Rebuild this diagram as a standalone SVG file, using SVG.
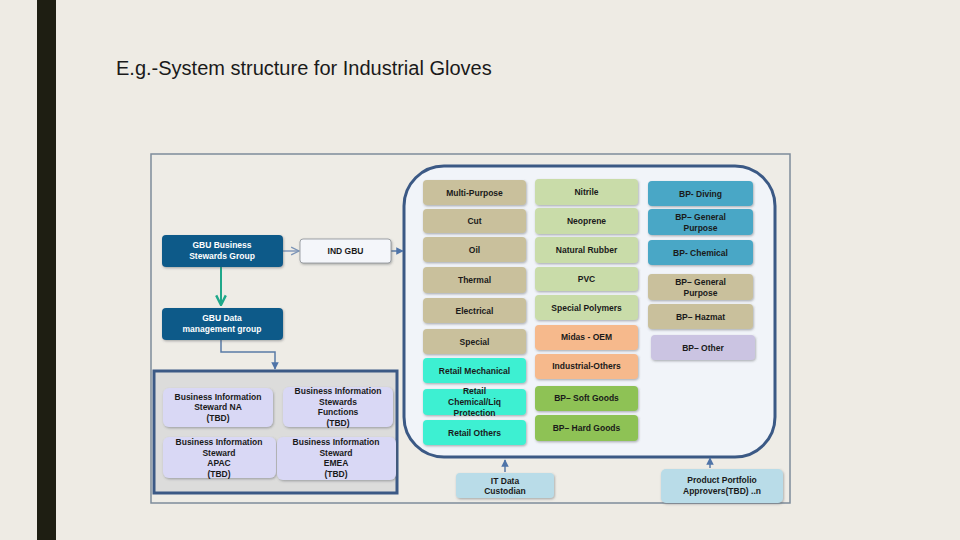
<svg xmlns="http://www.w3.org/2000/svg" width="960" height="540" viewBox="0 0 960 540">
<defs>
<style>
.t{font-family:"Liberation Sans","DejaVu Sans",sans-serif;font-weight:bold;font-size:8.5px;fill:#1a1a1a;text-anchor:middle}
.w{fill:#ffffff}
.b{stroke:#8a8f96;stroke-width:0.8}
.n rect{filter:url(#sh)}
.tan{fill:#c9c09c}
.lg{fill:#c9dca9}
.or{fill:#f6b98c}
.gr{fill:#8ec254}
.cy{fill:#3ef0d2}
.te{fill:#4aa7c6}
.lav{fill:#d9d8f5}
.pur{fill:#cbc4e2}
.lb{fill:#b9dce8}
.dk{fill:#0f5a89}
.ln{fill:none;stroke:#5a7ba6;stroke-width:1.5}
</style>
<filter id="sh" x="-10%" y="-20%" width="120%" height="150%"><feDropShadow dx="0.8" dy="1.2" stdDeviation="0.8" flood-color="#55585c" flood-opacity="0.45"/></filter>
<marker id="ab" viewBox="0 0 10 10" refX="9" refY="5" markerWidth="5" markerHeight="5" orient="auto"><path d="M0,0 L10,5 L0,10 z" fill="#4f74a8"/></marker>
<marker id="ao" viewBox="0 0 10 10" refX="9" refY="5" markerWidth="7" markerHeight="7" orient="auto"><path d="M1,1 L9,5 L1,9" fill="none" stroke="#7c94b6" stroke-width="1.4"/></marker>
<marker id="ag" viewBox="0 0 10 10" refX="9" refY="5" markerWidth="6" markerHeight="6" orient="auto"><path d="M1,1 L9,5 L1,9" fill="none" stroke="#1fa88a" stroke-width="2"/></marker>
</defs>
<rect x="0" y="0" width="960" height="540" fill="#eeebe4"/>
<rect x="37" y="0" width="19" height="540" fill="#1e1e12"/>
<text x="116" y="75" font-family="'Liberation Sans',Arial,sans-serif" font-size="20" fill="#1a1a1a">E.g.-System structure for Industrial Gloves</text>
<rect x="151" y="154" width="639" height="349" fill="#eeece6" stroke="#7e8c9a" stroke-width="1.5"/>
<g id="container"><rect x="404" y="166" width="371" height="291" rx="40" fill="#f1f4f9" stroke="#3b5985" stroke-width="3"/></g>
<g id="steward-group"><rect x="154" y="371" width="243" height="122" fill="#dcdcdb" stroke="#3b5985" stroke-width="3"/></g>
<g id="connectors">
<line x1="283" y1="251" x2="299" y2="251" stroke="#7c94b6" stroke-width="1.4" marker-end="url(#ao)"/>
<line x1="391" y1="251" x2="403" y2="251" class="ln" marker-end="url(#ab)"/>
<line x1="221" y1="267" x2="221" y2="305" stroke="#1fa88a" stroke-width="2" marker-end="url(#ag)"/>
<polyline points="221,340 221,352 275,352 275,369" class="ln" marker-end="url(#ab)"/>
<line x1="505" y1="472" x2="505" y2="460" class="ln" marker-end="url(#ab)"/>
<line x1="710" y1="468" x2="710" y2="458" class="ln" marker-end="url(#ab)"/>
</g>
<g class="n">
<g id="gbu-business"><rect x="162" y="235" width="121" height="32" rx="4" class="dk"/><text class="t w" x="222" y="248">GBU Business</text><text class="t w" x="222" y="259">Stewards Group</text></g>
<g id="ind-gbu"><rect x="300" y="239" width="91" height="24" rx="3" fill="#f4f6fa" class="b"/><text class="t" x="345.5" y="254">IND GBU</text></g>
<g id="gbu-data"><rect x="162" y="308" width="121" height="32" rx="4" class="dk"/><text class="t w" x="222" y="321">GBU Data</text><text class="t w" x="222" y="332">management  group</text></g>
<g id="bis-na"><rect x="163" y="388" width="110" height="39" rx="6" class="lav"/><text class="t" x="218" y="400">Business Information</text><text class="t" x="218" y="410">Steward NA</text><text class="t" x="218" y="421">(TBD)</text></g>
<g id="bis-functions"><rect x="283" y="387" width="110" height="40" rx="6" class="lav"/><text class="t" x="338" y="394">Business Information</text><text class="t" x="338" y="405">Stewards</text><text class="t" x="338" y="415">Functions</text><text class="t" x="338" y="426">(TBD)</text></g>
<g id="bis-apac"><rect x="163" y="437" width="113" height="41" rx="6" class="lav"/><text class="t" x="219" y="445">Business Information</text><text class="t" x="219" y="456">Steward</text><text class="t" x="219" y="466">APAC</text><text class="t" x="219" y="477">(TBD)</text></g>
<g id="bis-emea"><rect x="277" y="437" width="119" height="43" rx="6" class="lav"/><text class="t" x="336" y="445">Business Information</text><text class="t" x="336" y="456">Steward</text><text class="t" x="336" y="466">EMEA</text><text class="t" x="336" y="477" font-weight="normal">(TBD)</text></g>
<g id="multi-purpose"><rect x="423" y="180" width="103" height="25" rx="4" class="tan"/><text class="t" x="474.5" y="196">Multi-Purpose</text></g>
<g id="cut"><rect x="423" y="209" width="103" height="24" rx="4" class="tan"/><text class="t" x="474.5" y="224">Cut</text></g>
<g id="oil"><rect x="423" y="237" width="103" height="25" rx="4" class="tan"/><text class="t" x="474.5" y="253">Oil</text></g>
<g id="thermal"><rect x="423" y="267" width="103" height="26" rx="4" class="tan"/><text class="t" x="474.5" y="283">Thermal</text></g>
<g id="electrical"><rect x="423" y="298" width="103" height="25" rx="4" class="tan"/><text class="t" x="474.5" y="314">Electrical</text></g>
<g id="special"><rect x="423" y="329" width="103" height="25" rx="4" class="tan"/><text class="t" x="474.5" y="345">Special</text></g>
<g id="retail-mechanical"><rect x="423" y="358" width="103" height="25" rx="4" class="cy"/><text class="t" x="474.5" y="374">Retail Mechanical</text></g>
<g id="retail-chemical"><rect x="423" y="389" width="103" height="26" rx="4" class="cy"/><text class="t" x="474.5" y="394">Retail</text><text class="t" x="474.5" y="405">Chemical/Liq</text><text class="t" x="474.5" y="416">Protection</text></g>
<g id="retail-others"><rect x="423" y="420" width="103" height="25" rx="4" class="cy"/><text class="t" x="474.5" y="436">Retail Others</text></g>
<g id="nitrile"><rect x="535" y="179" width="103" height="26" rx="4" class="lg"/><text class="t" x="586.5" y="195">Nitrile</text></g>
<g id="neoprene"><rect x="535" y="208" width="103" height="26" rx="4" class="lg"/><text class="t" x="586.5" y="224">Neoprene</text></g>
<g id="natural-rubber"><rect x="535" y="237" width="103" height="26" rx="4" class="lg"/><text class="t" x="586.5" y="253">Natural Rubber</text></g>
<g id="pvc"><rect x="535" y="267" width="103" height="24" rx="4" class="lg"/><text class="t" x="586.5" y="282">PVC</text></g>
<g id="special-polymers"><rect x="535" y="295" width="103" height="25" rx="4" class="lg"/><text class="t" x="586.5" y="311">Special Polymers</text></g>
<g id="midas-oem"><rect x="535" y="325" width="103" height="25" rx="4" class="or"/><text class="t" x="586.5" y="340">Midas - OEM</text></g>
<g id="industrial-others"><rect x="535" y="354" width="103" height="25" rx="4" class="or"/><text class="t" x="586.5" y="369">Industrial-Others</text></g>
<g id="bp-soft-goods"><rect x="535" y="386" width="103" height="25" rx="4" class="gr"/><text class="t" x="586.5" y="401">BP– Soft Goods</text></g>
<g id="bp-hard-goods"><rect x="535" y="415" width="103" height="26" rx="4" class="gr"/><text class="t" x="586.5" y="431">BP– Hard Goods</text></g>
<g id="bp-diving"><rect x="648" y="181" width="105" height="25" rx="4" class="te"/><text class="t" x="700.5" y="197">BP- Diving</text></g>
<g id="bp-general-purpose-1"><rect x="648" y="209" width="105" height="26" rx="4" class="te"/><text class="t" x="700.5" y="220">BP– General</text><text class="t" x="700.5" y="231">Purpose</text></g>
<g id="bp-chemical"><rect x="648" y="240" width="105" height="25" rx="4" class="te"/><text class="t" x="700.5" y="256">BP- Chemical</text></g>
<g id="bp-general-purpose-2"><rect x="648" y="274" width="105" height="26" rx="4" class="tan"/><text class="t" x="700.5" y="285">BP– General</text><text class="t" x="700.5" y="296">Purpose</text></g>
<g id="bp-hazmat"><rect x="648" y="304" width="105" height="25" rx="4" class="tan"/><text class="t" x="700.5" y="320">BP– Hazmat</text></g>
<g id="bp-other"><rect x="651" y="335" width="104" height="25" rx="4" class="pur"/><text class="t" x="703" y="351">BP– Other</text></g>
<g id="it-data-custodian"><rect x="456" y="473" width="98" height="25" rx="4" class="lb"/><text class="t" x="505" y="484">IT Data</text><text class="t" x="505" y="494" font-weight="normal">Custodian</text></g>
<g id="product-portfolio"><rect x="661" y="469" width="122" height="34" rx="5" class="lb"/><text class="t" x="722" y="483">Product Portfolio</text><text class="t" x="722" y="494">Approvers(TBD) ..n</text></g>
</g>
</svg>
